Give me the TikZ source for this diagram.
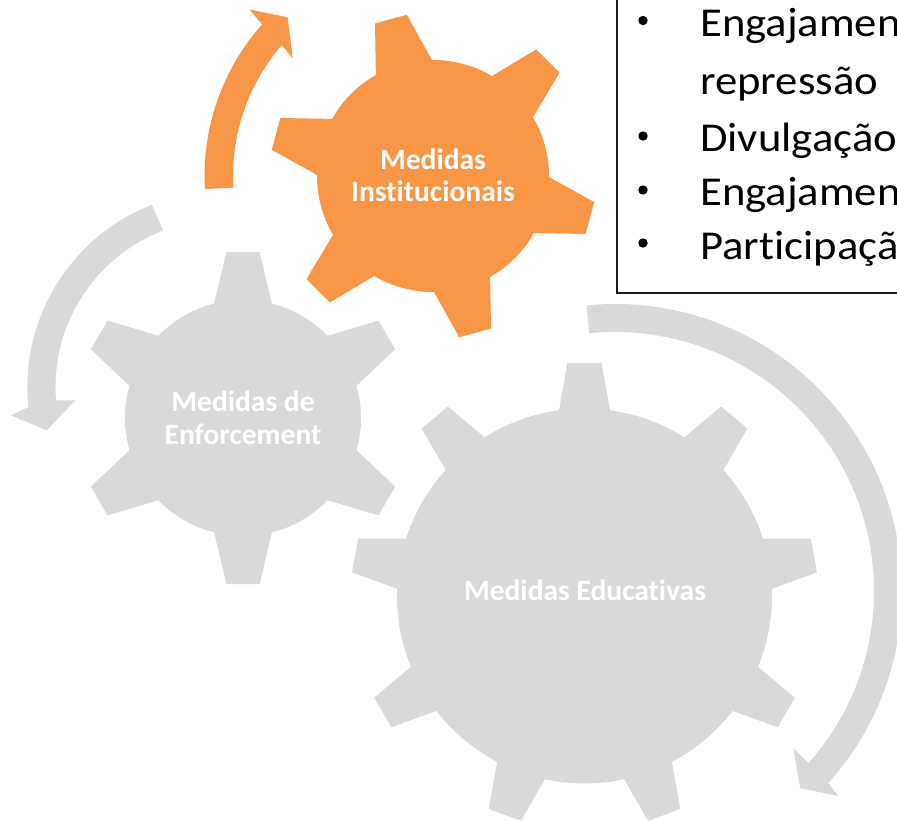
\documentclass[tikz,border=0pt]{standalone}
\usepackage{fontspec}
\setmainfont{Carlito}[Ligatures=NoCommon, RawFeature={-liga;-clig}]
\newfontfamily\boxfont{Carlito}[Ligatures=NoCommon, RawFeature={-liga;-clig}, FakeStretch=1.09]
\definecolor{orng}{HTML}{F79646}
\definecolor{gry}{HTML}{D9D9D9}
\tikzset{
  geartext/.style={text=white, font=\bfseries\fontsize{29.5}{32}\selectfont, inner sep=0pt},
  boxtext/.style={text=black, font=\boxfont\fontsize{41}{48}\selectfont, inner sep=0pt, anchor=base west},
  bul/.style={fill=black},
  frame/.style={draw=black!90, line width=1.4pt, fill=white},
}
\begin{document}
\begin{tikzpicture}[x=1pt,y=1pt]
\useasboundingbox (0,0) rectangle (897,-821);
\clip (0,0) rectangle (897,-821);

% ---- gear: Medidas Educativas (9 teeth)
\fill[gry] ([shift={(584.5,-596)}]82.2:187.5pt)
  \foreach \a in {90,130,...,410} {
    -- ([shift={(584.5,-596)}]\a-4.2:233.6pt)
    -- ([shift={(584.5,-596)}]\a+4.2:233.6pt)
    -- ([shift={(584.5,-596)}]\a+7.8:187.5pt)
    arc[start angle=\a+7.8, end angle=\a+32.2, radius=187.5pt]
  } -- cycle;

% ---- gear: Medidas de Enforcement (6 teeth)
\fill[gry] ([shift={(243,-418)}]75.8:118pt)
  \foreach \a in {90,150,...,390} {
    -- ([shift={(243,-418)}]\a-5.7:166.9pt)
    -- ([shift={(243,-418)}]\a+5.7:166.9pt)
    -- ([shift={(243,-418)}]\a+14.2:118pt)
    arc[start angle=\a+14.2, end angle=\a+45.8, radius=118pt]
  } -- cycle;

% ---- gear: Medidas Institucionais (6 teeth, orange)
\fill[orng] ([shift={(433,-176)}]90.5:116pt)
  \foreach \a in {105,165,...,405} {
    -- ([shift={(433,-176)}]\a-5.8:163.3pt)
    -- ([shift={(433,-176)}]\a+5.8:163.3pt)
    -- ([shift={(433,-176)}]\a+14.5:116pt)
    arc[start angle=\a+14.5, end angle=\a+45.5, radius=116pt]
  } -- cycle;

% ---- circular arrows
\fill[orng] ([shift={(433,-176)}]183.3:228.5pt)
  arc[start angle=183.3, end angle=138.4, radius=228.5pt]
  -- ([shift={(433,-176)}]137.8:248pt)
  -- ([shift={(433,-176)}]132.5:215.2pt)
  -- ([shift={(433,-176)}]140:183.1pt)
  -- ([shift={(433,-176)}]139.1:200pt)
  arc[start angle=139.1, end angle=183.3, radius=200pt] -- cycle;

\fill[gry] ([shift={(223,-387)}]111.3:195.6pt)
  arc[start angle=111.3, end angle=185.9, radius=195.6pt]
  -- ([shift={(223,-387)}]187.6:214.1pt)
  -- ([shift={(223,-387)}]193.8:181.5pt)
  -- ([shift={(223,-387)}]185.2:148.5pt)
  -- ([shift={(223,-387)}]184.6:167.5pt)
  arc[start angle=184.6, end angle=110.9, radius=167.5pt] -- cycle;

\fill[gry] ([shift={(615,-591)}]95.7:287pt)
  arc[start angle=95.7, end angle=-42, radius=287pt]
  -- ([shift={(615,-591)}]-42.55:303.1pt)
  -- ([shift={(615,-591)}]-46.8:270.5pt)
  -- ([shift={(615,-591)}]-41.4:237.8pt)
  -- ([shift={(615,-591)}]-41.7:259pt)
  arc[start angle=-41.7, end angle=95.7, radius=259pt] -- cycle;

% ---- gear labels
\node[geartext, anchor=base] (inst1) at (433,-169.5) {Medidas};
\node[geartext, anchor=base] (inst2) at (433,-201.5) {Institucionais};
\node[geartext, anchor=base] (enf1) at (243,-411) {Medidas de};
\node[geartext, anchor=base] (enf2) at (243,-444) {Enforcement};
\node[geartext, anchor=base] (edu) at (585,-600) {Medidas Educativas};

% ---- text box
\draw[frame] (617,-293) rectangle (905,8);
\foreach \y in {36.5,152,206,259} { \fill[bul] (643,-\y+16) circle (4.7pt); }
\node[boxtext] (l1) at (700,-36.5) {Engajamento};
\node[boxtext] (l2) at (700,-94.5) {repressão};
\node[boxtext] (l3) at (700,-152) {Divulgação};
\node[boxtext] (l4) at (700,-206) {Engajamento};
\node[boxtext] (l5) at (700,-259) {Participação};
\end{tikzpicture}
\end{document}
